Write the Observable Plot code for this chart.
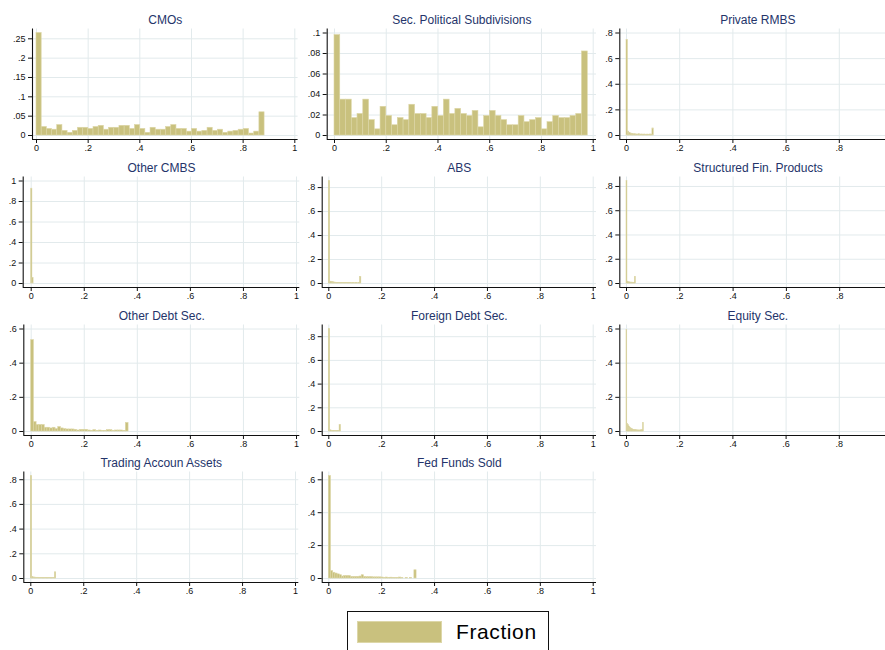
<!DOCTYPE html>
<html>
<head>
<meta charset="utf-8">
<script src="https://cdn.jsdelivr.net/npm/d3@7"></script>
<script src="https://cdn.jsdelivr.net/npm/@observablehq/plot@0.6"></script>
<style>
html, body { margin: 0; padding: 0; background: #fff; overflow: hidden; width: 885px; height: 650px; }
#chart { position: relative; width: 885px; height: 650px; overflow: hidden; font-family: "Liberation Sans", Arial, sans-serif; }
.panel { position: absolute; }
#legend { position: absolute; left: 347px; top: 611px; width: 202px; height: 60px; border: 1px solid #111; box-sizing: border-box; background: #fff; }
#legend .sw { position: absolute; left: 9px; top: 9px; width: 85px; height: 22px; background: #c9c17e; border: 1px solid #ddd7a8; box-sizing: border-box; }
#legend .lb { position: absolute; left: 108px; top: 7px; font-size: 21px; letter-spacing: 0.6px; color: #000; line-height: 26px; }
</style>
</head>
<body>
<div id="chart"></div>
<script>
// ---------------- data (fractions) ----------------
const titles = ["CMOs", "Sec. Political Subdivisions", "Private RMBS", "Other CMBS", "ABS",
  "Structured Fin. Products", "Other Debt Sec.", "Foreign Debt Sec.", "Equity Sec.",
  "Trading Accoun Assets", "Fed Funds Sold"];

const cmos = [0.265, 0.022, 0.017, 0.015, 0.027, 0.012, 0.007, 0.012, 0.020, 0.020, 0.017, 0.022,
  0.025, 0.015, 0.020, 0.020, 0.025, 0.025, 0.017, 0.027, 0.017, 0.007, 0.020, 0.015, 0.015, 0.022,
  0.027, 0.017, 0.017, 0.010, 0.017, 0.010, 0.012, 0.020, 0.012, 0.015, 0.007, 0.010, 0.012, 0.015,
  0.017, 0.005, 0.010, 0.060];
const secPolitical = [0.098, 0.035, 0.035, 0.017, 0.021, 0.035, 0.015, 0.006, 0.028, 0.019, 0.010,
  0.017, 0.015, 0.030, 0.021, 0.021, 0.017, 0.028, 0.019, 0.035, 0.021, 0.026, 0.021, 0.019, 0.024,
  0.008, 0.019, 0.024, 0.019, 0.015, 0.010, 0.010, 0.019, 0.013, 0.015, 0.017, 0.006, 0.013, 0.019,
  0.017, 0.017, 0.019, 0.021, 0.082];
const privateRmbs = [0.745, 0.030, 0.020, 0.015, 0.012, 0.010, 0.010, 0.008, 0.008, 0.010, 0.007,
  0.008, 0.006, 0.008, 0.005, 0.007, 0.006, 0.008, 0.007, 0.055];
const otherCmbs = [0.925, 0.055];
const abs = [0.855, 0.015, 0.012, 0.010, 0.008, 0.006, 0.005, 0.005, 0.004, 0.004, 0.004, 0.003,
  0.004, 0.003, 0.003, 0.003, 0.003, 0.002, 0.003, 0.002, 0.003, 0.002, 0.003, 0.055];
const structuredFin = [0.845, 0.015, 0.010, 0.009, 0.008, 0.007, 0.007, 0.006, 0.006, 0.055];
const otherDebt = [0.535, 0.055, 0.038, 0.038, 0.038, 0.022, 0.022, 0.018, 0.022, 0.014, 0.026,
  0.018, 0.014, 0.012, 0.012, 0.012, 0.010, 0.006, 0.010, 0.010, 0.010, 0.006, 0.004, 0.008, 0.004,
  0.006, 0.003, 0.004, 0.008, 0.008, 0.004, 0.006, 0.006, 0.006, 0.004, 0.050];
const foreignDebt = [0.865, 0.010, 0.006, 0.005, 0.004, 0.004, 0.004, 0.005, 0.055];
const equity = [0.594, 0.045, 0.038, 0.030, 0.025, 0.020, 0.017, 0.015, 0.012, 0.010, 0.010, 0.008,
  0.008, 0.007, 0.007, 0.006, 0.006, 0.006, 0.006, 0.007, 0.007, 0.008, 0.050];
const trading = [0.830, 0.012, 0.008, 0.007, 0.006, 0.006, 0.005, 0.005, 0.005, 0.004, 0.004, 0.005,
  0.004, 0.004, 0.004, 0.004, 0.003, 0.004, 0.050];
const fedFunds = [0.623, 0.045, 0.035, 0.030, 0.025, 0.020, 0.012, 0.015, 0.015, 0.015, 0.010, 0.010,
  0.010, 0.010, 0.012, 0.020, 0.010, 0.008, 0.008, 0.008, 0.007, 0.007, 0.007, 0.007, 0.006, 0.004,
  0.006, 0.004, 0.005, 0.004, 0.003, 0.003, 0.006, 0.002, 0.000, 0.004, 0.000, 0.003, 0.000, 0.050];

const seriesValues = [cmos, secPolitical, privateRmbs, otherCmbs, abs, structuredFin, otherDebt,
  foreignDebt, equity, trading, fedFunds];
// upper end of the last bin (the bins start at 0)
const binEnds = [0.883, 0.979, 0.1025, 0.009, 0.123, 0.035, 0.367, 0.046, 0.065, 0.096, 0.332];

const xTickValues = [0, 0.2, 0.4, 0.6, 0.8, 1];
const xTickValuesRightCol = [0, 0.2, 0.4, 0.6, 0.8]; // "1" falls outside the picture there
const yTickValues = [
  [0, 0.05, 0.1, 0.15, 0.2, 0.25],
  [0, 0.02, 0.04, 0.06, 0.08, 0.1],
  [0, 0.2, 0.4, 0.6, 0.8],
  [0, 0.2, 0.4, 0.6, 0.8, 1],
  [0, 0.2, 0.4, 0.6, 0.8],
  [0, 0.2, 0.4, 0.6, 0.8],
  [0, 0.2, 0.4, 0.6],
  [0, 0.2, 0.4, 0.6, 0.8],
  [0, 0.2, 0.4, 0.6],
  [0, 0.2, 0.4, 0.6, 0.8],
  [0, 0.2, 0.4, 0.6]
];
const legendLabel = "Fraction";

// ---------------- layout (page pixels) ----------------
const geo = [ // y-axis line x, pixel of x=0, pixel of x=1
  {axis: 32, x0: 36, x1: 294.3},
  {axis: 326.7, x0: 334, x1: 592.7},
  {axis: 619.3, x0: 626, x1: 892},
  {axis: 22.7, x0: 30.7, x1: 296},
  {axis: 321.7, x0: 328.3, x1: 592.7},
  {axis: 619.3, x0: 626, x1: 892.5},
  {axis: 23.3, x0: 30.7, x1: 296},
  {axis: 321.7, x0: 328.3, x1: 592.7},
  {axis: 619.3, x0: 626, x1: 892},
  {axis: 23.3, x0: 30.3, x1: 295},
  {axis: 321.7, x0: 328.3, x1: 592.7}
];
const colLeft = [0, 298, 596];
const rowBase = [135, 283, 430.7, 578.3]; // pixel of y=0
const dataHeight = 102.5, pad = 4, W = 300, H = 156;
const barFill = "#c9c17e", barStroke = "#dcd6a6", gridColor = "#e2eaec", titleColor = "#24346a";

const fmt = d => d === 0 ? "0" : String(d).replace(/^0\./, ".");
const chart = document.getElementById("chart");

seriesValues.forEach((vals, i) => {
  const col = i % 3, row = Math.floor(i / 3);
  const g = geo[i];
  const left = colLeft[col];
  const base = rowBase[row];
  const top = base - 135;
  const w = binEnds[i] / vals.length;
  const bars = vals.map((v, j) => ({x1: j * w, x2: (j + 1) * w, y: v}));
  const yt = yTickValues[i];
  const xt = col === 2 ? xTickValuesRightCol : xTickValues;
  const ymax = Math.max(d3.max(vals), d3.max(yt));
  const k = dataHeight / ymax;
  const frameRight = g.x1 + 3.3;
  const unit = g.x1 - g.x0;
  const xmin = (g.axis - g.x0) / unit, xmax = (frameRight - g.x0) / unit;
  const ymin = -pad / k, ymaxD = ymax + pad / k;

  const plot = Plot.plot({
    width: W,
    height: H,
    marginLeft: g.axis - left,
    marginRight: left + W - frameRight,
    marginTop: (base - dataHeight - pad) - top,
    marginBottom: top + H - (base + pad),
    x: {domain: [xmin, xmax]},
    y: {domain: [ymin, ymaxD]},
    style: {fontFamily: "Liberation Sans, Arial, sans-serif", fontSize: "9px", color: "#111", background: "transparent", overflow: "visible"},
    marks: [
      Plot.gridY({ticks: yt, stroke: gridColor, strokeOpacity: 1}),
      Plot.gridX({ticks: xTickValues, stroke: gridColor, strokeOpacity: 1}),
      Plot.rectY(bars, {x1: "x1", x2: "x2", y: "y", fill: barFill, stroke: barStroke, strokeWidth: 0.6}),
      Plot.ruleX([xmin], {stroke: "#111", strokeWidth: 1.1}),
      Plot.ruleY([ymin], {stroke: "#111", strokeWidth: 1.1}),
      Plot.axisY({ticks: yt, tickFormat: fmt, tickSize: 4, tickPadding: 3, fontSize: 9, label: null}),
      Plot.axisX({ticks: xt, tickFormat: fmt, tickSize: 4, tickPadding: 1, fontSize: 9, label: null}),
      Plot.text([titles[i]], {frameAnchor: "top", dy: -9, fontSize: 12, fill: titleColor, lineAnchor: "middle"})
    ]
  });
  plot.classList.add("panel");
  plot.style.left = left + "px";
  plot.style.top = top + "px";
  chart.appendChild(plot);
});

const legend = document.createElement("div");
legend.id = "legend";
legend.innerHTML = '<div class="sw"></div><div class="lb"></div>';
legend.querySelector(".lb").textContent = legendLabel;
chart.appendChild(legend);
</script>
</body>
</html>
